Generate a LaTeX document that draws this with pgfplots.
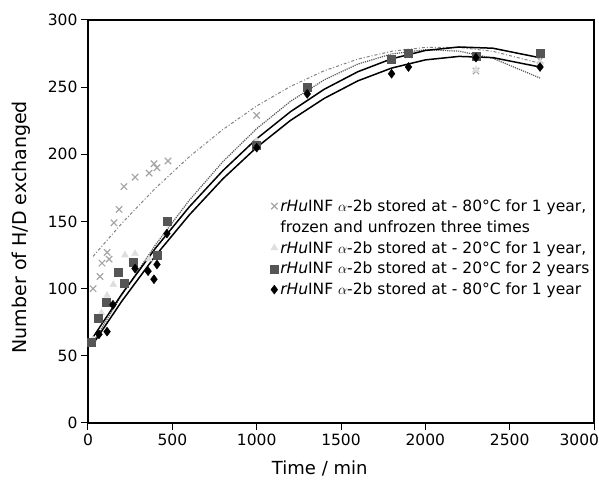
\documentclass[border=0pt]{standalone}
\usepackage{fontspec}
\setmainfont{DejaVu Sans}
\usepackage{pgfplots}
\pgfplotsset{compat=1.18}
\usetikzlibrary{calc}
\definecolor{crossGray}{RGB}{165,165,165}
\definecolor{triGray}{RGB}{222,222,222}
\definecolor{sqGray}{RGB}{85,85,85}
\definecolor{fitGray}{RGB}{130,130,130}
\definecolor{dotGray}{RGB}{90,90,90}

\newcommand{\rhuinf}{\textit{rHu}INF $\alpha$-2b stored at - }

\begin{document}
\begin{tikzpicture}
\begin{axis}[
    width=506pt, height=403pt, scale only axis,
    xmin=0, xmax=3000, ymin=0, ymax=300,
    xtick={0,500,...,3000}, ytick={0,50,...,300},
    xticklabels={0,500,1000,1500,2000,2500,\hbox to 0pt{\hss 3000\kern-5pt}},
    tick align=outside, xtick pos=bottom, ytick pos=left,
    major tick length=7pt,
    axis line style={black, line width=1.4pt},
    every tick/.style={black, line width=1pt},
    /pgf/number format/assume math mode=true,
    /pgf/number format/1000 sep={},
    tick label style={font=\fontsize{15.5pt}{18pt}\selectfont},
    xlabel={Time / min}, ylabel={Number of H/D exchanged},
    every axis x label/.style={at={(axis description cs:0.458,-0.113)}, anchor=center,
        font=\fontsize{18pt}{21pt}\selectfont},
    every axis y label/.style={at={(axis description cs:-0.132,0.486)}, anchor=center,
        rotate=90, font=\fontsize{19pt}{22pt}\selectfont},
    legend style={at={(rel axis cs:0.345,0.565)}, anchor=north west, draw=none, fill=none,
        font=\fontsize{15.5pt}{18pt}\selectfont, row sep=3.6pt,
        /tikz/every even column/.append style={column sep=2pt}},
    legend cell align=left,
]
\coordinate (sw) at (rel axis cs:0,0);
\coordinate (ne) at (rel axis cs:1,1);

% fitted curves
\addplot[fitGray, line width=1pt, dash dot, forget plot] coordinates {
    (30,124) (200,148.6) (400,174.8) (600,198.1) (800,218.5) (1000,236.0)
    (1200,250.5) (1400,262.2) (1600,270.9) (1800,276.7) (2000,279.6)
    (2200,279.6) (2400,276.7) (2680,267.8)};
\addplot[dotGray, line width=1.2pt, densely dotted, forget plot] coordinates {
    (30,60) (200,95.2) (400,132.6) (600,165.7) (800,194.6) (1000,219.1)
    (1200,239.4) (1400,255.4) (1600,267.2) (1800,274.7) (2000,277.9)
    (2200,276.8) (2400,271.5) (2680,256.8)};
\addplot[black, line width=1.5pt, forget plot] coordinates {
    (20,62) (200,95.9) (400,130.1) (600,160.8) (800,187.9) (1000,211.6)
    (1200,231.7) (1400,248.4) (1600,261.5) (1800,271.1) (2000,277.3)
    (2200,279.9) (2400,279.0) (2680,271.9)};
\addplot[black, line width=1.5pt, forget plot] coordinates {
    (20,57) (200,90.6) (400,124.5) (600,154.8) (800,181.8) (1000,205.2)
    (1200,225.2) (1400,241.6) (1600,254.7) (1800,264.2) (2000,270.3)
    (2200,272.9) (2400,272.0) (2680,265.0)};

% measured points
\addplot[only marks, mark=x, mark size=4.5pt, crossGray, line width=1.2pt] coordinates {
    (30,100) (71,109) (83,119) (113,127) (125,122) (154,149) (184,159)
    (213,176) (279,183) (362,186) (391,193) (409,190) (474,195) (1000,229)
    (1300,250) (1800,270) (1900,274) (2300,262) (2680,270)};
\addlegendentry{\rhuinf 80°C for 1 year,}
\addlegendimage{empty legend}
\addlegendentry{frozen and unfrozen three times}
\addplot[only marks, mark=triangle*, mark size=4pt, triGray] coordinates {
    (30,62) (80,82) (113,95) (150,103) (219,125) (279,126) (362,122)
    (409,126) (474,148) (1000,210) (1300,248) (1800,272) (1900,276)
    (2300,263) (2680,268)};
\addlegendentry{\rhuinf 20°C for 1 year,}
\addplot[only marks, mark=square*, mark size=4pt, sqGray] coordinates {
    (20,60) (59,78) (110,90) (180,112) (213,104) (270,120) (409,125)
    (470,150) (1000,207) (1300,250) (1800,271) (1900,275) (2300,273)
    (2680,275)};
\addlegendentry{\rhuinf 20°C for 2 years}
\addplot[only marks, mark=diamond*, mark size=4.5pt, black] coordinates {
    (65,66) (113,68) (148,88) (279,115) (356,113) (391,107) (409,118)
    (468,141) (1000,205) (1300,245) (1800,260) (1900,265) (2300,272)
    (2680,265)};
\addlegendentry{\rhuinf 80°C for 1 year}
\end{axis}
\pgfresetboundingbox
\path[use as bounding box] ($(sw)+(-88pt,-57pt)$) rectangle ($(ne)+(5pt,20pt)$);
\end{tikzpicture}
\end{document}
